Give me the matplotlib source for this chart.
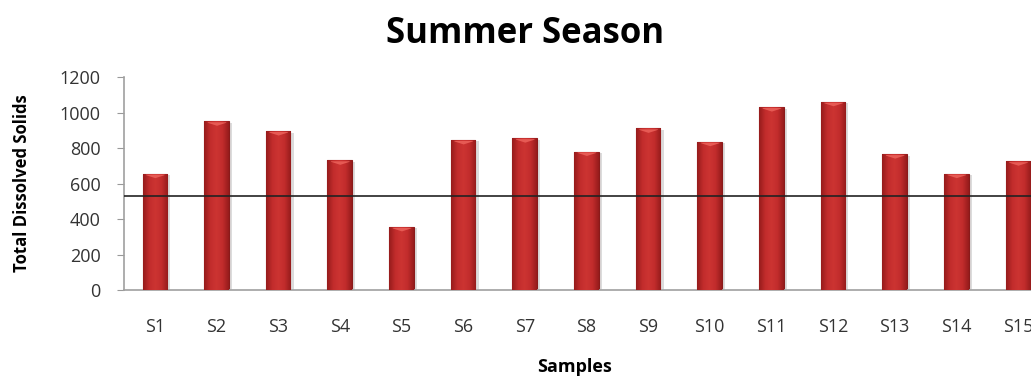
import numpy as np
import matplotlib.pyplot as plt
from matplotlib.colors import LinearSegmentedColormap

samples = ["S1", "S2", "S3", "S4", "S5", "S6", "S7", "S8",
           "S9", "S10", "S11", "S12", "S13", "S14", "S15"]
tds = [655, 950, 895, 730, 355, 845, 855, 780,
       910, 835, 1030, 1060, 765, 655, 725]
limit = 530
yticks = [0, 200, 400, 600, 800, 1000, 1200]

plt.rcParams['font.family'] = ['Open Sans', 'DejaVu Sans']

fig = plt.figure(figsize=(10.31, 3.79), dpi=100)
ax = fig.add_axes([0.1203, 0.2348, 0.897, 0.562])

x = np.arange(len(samples))
bars = ax.bar(x, tds, width=0.4, color="#c02a2a", edgecolor="#8a1a1a",
              linewidth=0.8, zorder=2)

# shaded fill so the bars look rounded
cmap = LinearSegmentedColormap.from_list(
    "barshade", ["#961c1c", "#c22c2c", "#cc3432", "#c22c2c", "#961c1c"])
grad = np.linspace(0, 1, 64).reshape(1, -1)
for b in bars:
    bx, bw, bh = b.get_x(), b.get_width(), b.get_height()
    im = ax.imshow(grad, cmap=cmap, aspect="auto", zorder=3,
                   extent=[bx, bx + bw, 0, bh], interpolation="bilinear")
    im.set_clip_path(b)
    # lighter cap at the top
    ax.fill_between([bx + 0.05, bx + bw / 2, bx + bw - 0.05],
                    [bh - 5, bh - 22, bh - 5], bh - 2,
                    color="#e65a54", lw=0, zorder=4)
    # faint shadow on the right side
    ax.fill_between([bx + bw, bx + bw + 0.05], 0, bh - 8,
                    color="#dcdcdc", lw=0, zorder=1)

ax.axhline(limit, color="#222222", lw=1.2, zorder=5)

ax.set_xlim(-0.5, len(samples) - 0.5)
ax.set_ylim(0, 1200)
ax.set_yticks(yticks)
ax.set_xticks(x)
ax.set_xticklabels(samples)
ax.tick_params(axis="x", length=0, pad=20, labelsize=13, labelcolor="#333333")
ax.tick_params(axis="y", length=5, color="#999999", pad=12, labelsize=13,
               labelcolor="#333333")

for s in ["top", "right"]:
    ax.spines[s].set_visible(False)
for s in ["left", "bottom"]:
    ax.spines[s].set_color("#a0a0a0")
    ax.spines[s].set_linewidth(1.2)

ax.set_xlabel("Samples", fontsize=13, fontweight="bold")
ax.xaxis.set_label_coords(0.487, -0.32)
ax.set_ylabel("Total Dissolved Solids", fontsize=12, fontweight="bold")
ax.yaxis.set_label_coords(-0.101, 0.5)
fig.text(0.509, 0.91, "Summer Season", ha="center", va="center",
         fontsize=25, fontweight="bold")

fig.savefig("out.png", dpi=100)
